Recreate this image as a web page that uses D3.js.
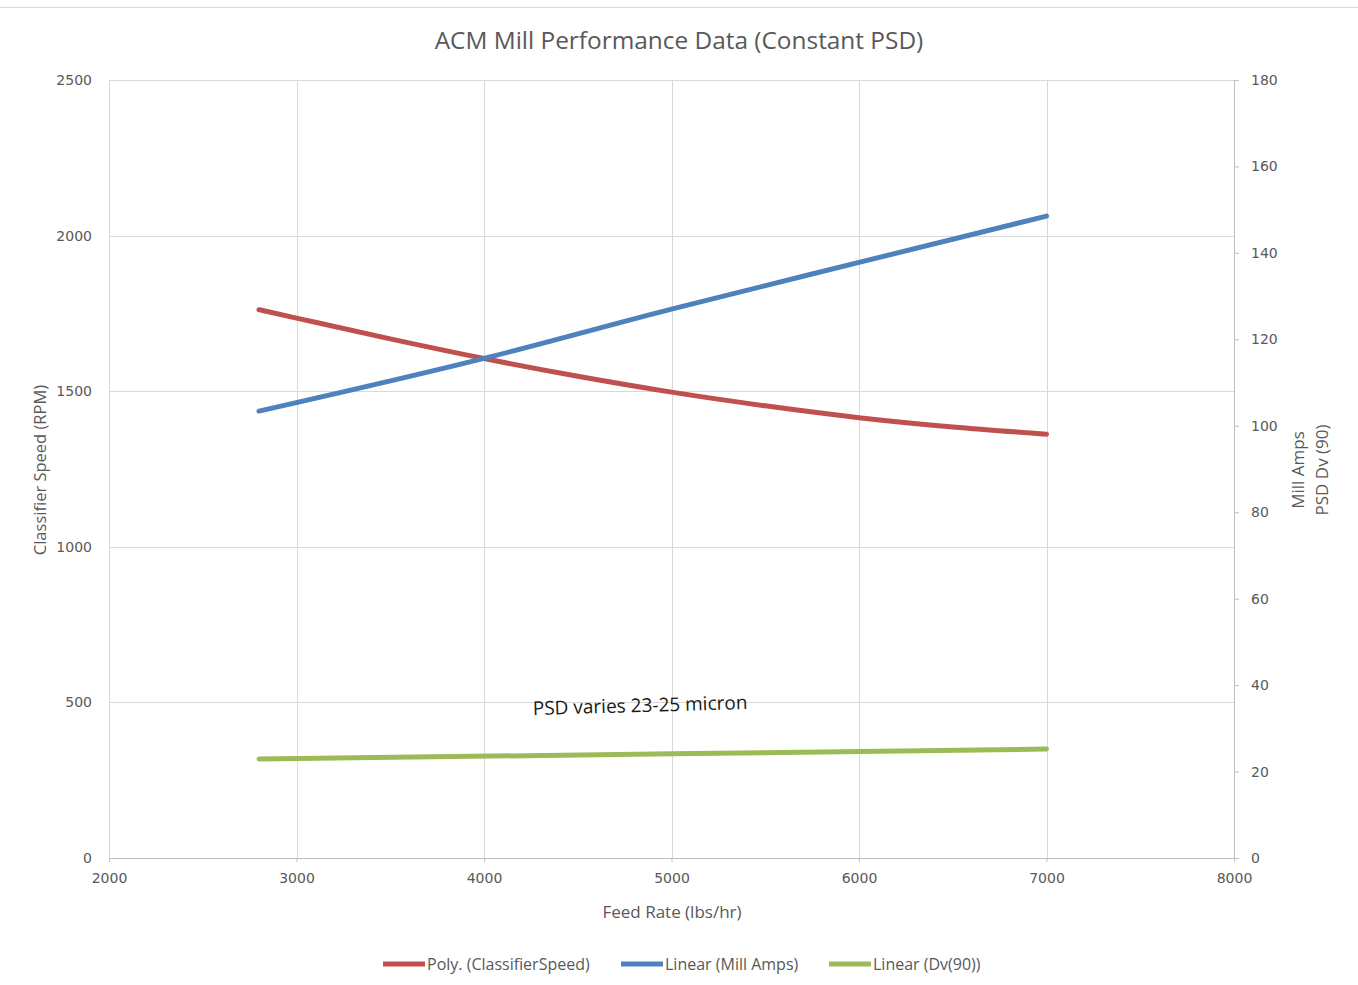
<!DOCTYPE html>
<html>
<head>
<meta charset="utf-8">
<script src="https://cdn.jsdelivr.net/npm/d3@7"></script>
<style>
  body { margin: 0; background: #fff; }
  text { font-family: "Open Sans", sans-serif; fill: #595959; }
</style>
</head>
<body>
<div class="chart"></div>
<script>
// DATA ------------------------------
const feedRate = [2800, 3000, 3500, 4000, 4500, 5000, 5500, 6000, 6500, 7000];
const classifierSpeed = [1762, 1735, 1668, 1605, 1548, 1497, 1453, 1415, 1385, 1362];

const ampsFeed = [2800, 4000, 5000, 6000, 7000];
const millAmps = [103.4, 115.6, 127.0, 137.8, 148.5];

const dvFeed = [2800, 5000, 7000];
const dv90 = [22.9, 24.1, 25.2];

const xTicks = [2000, 3000, 4000, 5000, 6000, 7000, 8000];
const leftTicks = [0, 500, 1000, 1500, 2000, 2500];
const rightTicks = [0, 20, 40, 60, 80, 100, 120, 140, 160, 180];

const seriesNames = ["Poly. (ClassifierSpeed)", "Linear (Mill Amps)", "Linear (Dv(90))"];
const colors = ["#c0504d", "#4f81bd", "#9bbb59"];

// margin
const W = 1358, H = 985;
const margin = ({top: 80, right: 124, bottom: 127, left: 109});
const width = W - margin.left - margin.right,
      height = H - margin.top - margin.bottom;

const root = d3.select(".chart").append("svg")
    .attr("width", W)
    .attr("height", H);

// chart border
root.append("line")
    .attr("x1", 0).attr("x2", W).attr("y1", 7.5).attr("y2", 7.5)
    .attr("stroke", "#d9d9d9");

const svg = root.append("g")
    .attr("transform", "translate(" + margin.left + "," + margin.top + ")");

// scales
const xScale = d3.scaleLinear().domain([2000, 8000]).range([0, width]);
const yLeft = d3.scaleLinear().domain([0, 2500]).range([height, 0]);
const yRight = d3.scaleLinear().domain([0, 180]).range([height, 0]);

// gridlines
svg.append("g")
    .selectAll("line")
    .data(leftTicks.slice(1))
    .join("line")
    .attr("x1", 0).attr("x2", width)
    .attr("y1", d => Math.round(yLeft(d)) + 0.5)
    .attr("y2", d => Math.round(yLeft(d)) + 0.5)
    .attr("stroke", "#d9d9d9");

svg.append("g")
    .selectAll("line")
    .data(xTicks.slice(0, -1))
    .join("line")
    .attr("y1", 0).attr("y2", height)
    .attr("x1", d => Math.round(xScale(d)) + 0.5)
    .attr("x2", d => Math.round(xScale(d)) + 0.5)
    .attr("stroke", "#d9d9d9");

// axes
const fmt = d3.format("d");
const xAxis = d3.axisBottom(xScale).tickValues(xTicks).tickFormat(fmt).tickSize(4).tickPadding(11);
const yAxisL = d3.axisLeft(yLeft).tickValues(leftTicks).tickFormat(fmt).tickSize(0).tickPadding(17);
const yAxisR = d3.axisRight(yRight).tickValues(rightTicks).tickFormat(fmt).tickSize(5).tickPadding(12);

const xg = svg.append("g")
    .attr("transform", "translate(0," + height + ")")
    .call(xAxis);
const ylg = svg.append("g").call(yAxisL);
const yrg = svg.append("g")
    .attr("transform", "translate(" + width + ",0)")
    .call(yAxisR);

[xg, ylg, yrg].forEach(g => {
    g.select(".domain").attr("stroke", "#bfbfbf");
    g.selectAll(".tick line").attr("stroke", "#bfbfbf");
    g.selectAll("text")
        .attr("fill", "#595959")
        .style("font-family", "'DejaVu Sans', sans-serif")
        .style("font-size", "14px");
});
ylg.select(".domain").remove();

// lines
const line = yScale => d3.line()
    .x(d => xScale(d[0]))
    .y(d => yScale(d[1]))
    .curve(d3.curveMonotoneX);

const seriesData = [
    {pts: d3.zip(feedRate, classifierSpeed), scale: yLeft},
    {pts: d3.zip(ampsFeed, millAmps), scale: yRight},
    {pts: d3.zip(dvFeed, dv90), scale: yRight}
];

svg.selectAll(".series")
    .data(seriesData)
    .join("path")
    .attr("class", "series")
    .attr("fill", "none")
    .attr("stroke", (d, i) => colors[i])
    .attr("stroke-width", 5)
    .attr("stroke-linecap", "round")
    .attr("d", d => line(d.scale)(d.pts));

// annotation
root.append("text")
    .attr("transform", "translate(533,715) rotate(-1.6)")
    .style("font-size", "19px")
    .style("fill", "#1a1a1a")
    .text("PSD varies 23-25 micron");

// title
root.append("text")
    .attr("x", 679).attr("y", 49)
    .attr("text-anchor", "middle")
    .style("font-size", "24.4px")
    .text("ACM Mill Performance Data (Constant PSD)");

// axis titles
root.append("text")
    .attr("transform", "translate(46,470) rotate(-90)")
    .attr("text-anchor", "middle")
    .style("font-size", "16.5px")
    .text("Classifier Speed (RPM)");

root.append("text")
    .attr("transform", "translate(1304,470) rotate(-90)")
    .attr("text-anchor", "middle")
    .style("font-size", "17px")
    .text("Mill Amps");

root.append("text")
    .attr("transform", "translate(1328,470) rotate(-90)")
    .attr("text-anchor", "middle")
    .style("font-size", "17px")
    .text("PSD Dv (90)");

root.append("text")
    .attr("x", 672).attr("y", 918)
    .attr("text-anchor", "middle")
    .style("font-size", "17px")
    .text("Feed Rate (lbs/hr)");

// legend
const legendX = [383, 621, 829];
const legend = root.selectAll(".legend")
    .data(seriesNames)
    .join("g")
    .attr("class", "legend")
    .attr("transform", (d, i) => "translate(" + legendX[i] + ",964)");

legend.append("line")
    .attr("x1", 0).attr("x2", 42)
    .attr("stroke", (d, i) => colors[i])
    .attr("stroke-width", 5);

legend.append("text")
    .attr("x", 44).attr("y", 5.5)
    .style("font-size", "16px")
    .text(d => d);
</script>
</body>
</html>
